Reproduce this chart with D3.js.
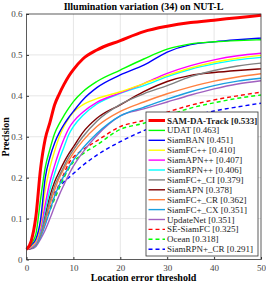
<!DOCTYPE html>
<html>
<head>
<meta charset="utf-8">
<script src="https://cdn.jsdelivr.net/npm/d3@7"></script>
<style>
  body { margin: 0; background: #fff; }
  text { font-family: "Liberation Serif", "Times New Roman", serif; }
</style>
</head>
<body>
<svg id="chart" width="266" height="284"></svg>
<script>
// thresholds on the x axis
const thresholds = [0, 1, 2, 3, 4, 5, 6, 7, 8, 9, 10, 12, 15, 20, 25, 30, 35, 40, 45, 50];

const trackers = ["SAM-DA-Track", "UDAT", "SiamBAN", "SiamFC++", "SiamAPN++", "SiamRPN++", "SiamFC+_CI",
  "SiamAPN", "SiamFC+_CR", "SiamFC+_CX", "UpdateNet", "SE-SiamFC", "Ocean", "SiamRPN+_CR"];
const scores = ["0.533", "0.463", "0.451", "0.410", "0.407", "0.406", "0.379",
  "0.378", "0.362", "0.351", "0.351", "0.325", "0.318", "0.291"];

const samdaTrack = [0.025, 0.045, 0.105, 0.222, 0.295, 0.335, 0.378, 0.405, 0.428, 0.448, 0.464, 0.49, 0.512, 0.535, 0.557, 0.57, 0.579, 0.585, 0.591, 0.597];
const udat = [0.025, 0.038, 0.062, 0.147, 0.225, 0.27, 0.308, 0.332, 0.352, 0.37, 0.386, 0.41, 0.435, 0.463, 0.49, 0.514, 0.527, 0.532, 0.535, 0.537];
const siamBan = [0.025, 0.035, 0.05, 0.097, 0.2, 0.25, 0.285, 0.31, 0.33, 0.347, 0.362, 0.39, 0.42, 0.451, 0.475, 0.507, 0.525, 0.532, 0.537, 0.541];
const siamFcpp = [0.025, 0.032, 0.045, 0.085, 0.17, 0.225, 0.265, 0.3, 0.325, 0.345, 0.36, 0.378, 0.393, 0.41, 0.43, 0.45, 0.468, 0.482, 0.492, 0.499];
const siamApnpp = [0.025, 0.03, 0.042, 0.075, 0.135, 0.19, 0.23, 0.265, 0.295, 0.32, 0.337, 0.36, 0.384, 0.407, 0.43, 0.455, 0.474, 0.488, 0.498, 0.504];
const siamRpnpp = [0.025, 0.03, 0.04, 0.07, 0.12, 0.17, 0.21, 0.245, 0.275, 0.305, 0.325, 0.352, 0.38, 0.406, 0.425, 0.447, 0.465, 0.478, 0.488, 0.494];
const siamFcCi = [0.025, 0.028, 0.036, 0.06, 0.1, 0.145, 0.18, 0.205, 0.228, 0.25, 0.268, 0.3, 0.338, 0.379, 0.405, 0.425, 0.447, 0.462, 0.473, 0.48];
const siamApn = [0.025, 0.028, 0.038, 0.065, 0.11, 0.155, 0.19, 0.215, 0.238, 0.258, 0.275, 0.31, 0.345, 0.378, 0.41, 0.435, 0.45, 0.457, 0.462, 0.466];
const siamFcCr = [0.025, 0.028, 0.036, 0.06, 0.095, 0.135, 0.17, 0.2, 0.222, 0.242, 0.26, 0.29, 0.325, 0.362, 0.385, 0.405, 0.422, 0.436, 0.446, 0.454];
const siamFcCx = [0.025, 0.027, 0.034, 0.055, 0.085, 0.12, 0.155, 0.182, 0.205, 0.225, 0.243, 0.272, 0.308, 0.351, 0.372, 0.392, 0.41, 0.425, 0.436, 0.443];
const updateNet = [0.025, 0.026, 0.032, 0.05, 0.072, 0.1, 0.13, 0.158, 0.183, 0.207, 0.228, 0.262, 0.303, 0.351, 0.368, 0.385, 0.402, 0.417, 0.429, 0.437];
const seSiamFc = [0.025, 0.028, 0.038, 0.06, 0.09, 0.125, 0.155, 0.185, 0.21, 0.235, 0.25, 0.268, 0.29, 0.325, 0.34, 0.36, 0.377, 0.39, 0.4, 0.409];
const ocean = [0.025, 0.028, 0.038, 0.06, 0.09, 0.12, 0.148, 0.175, 0.2, 0.222, 0.238, 0.258, 0.28, 0.318, 0.333, 0.352, 0.37, 0.383, 0.394, 0.402];
const siamRpnCr = [0.025, 0.03, 0.042, 0.07, 0.11, 0.145, 0.165, 0.178, 0.19, 0.2, 0.21, 0.23, 0.255, 0.288, 0.315, 0.335, 0.35, 0.363, 0.373, 0.382];

const xTicks = [0, 10, 20, 30, 40, 50];
const yTicks = [0, 0.1, 0.2, 0.3, 0.4, 0.5, 0.6];

const allSeries = [samdaTrack, udat, siamBan, siamFcpp, siamApnpp, siamRpnpp, siamFcCi,
  siamApn, siamFcCr, siamFcCx, updateNet, seSiamFc, ocean, siamRpnCr];
const colors = ["#ff0000", "#00ff00", "#0000ff", "#ffff00", "#ff00ff", "#00ffff", "#808080",
  "#800000", "#ff8040", "#1a9fe0", "#a060c0", "#ff0000", "#00ff00", "#0000ff"];

var svg = d3.select("#chart"),
  pLeft = 26.5, pRight = 261, pTop = 14, pBottom = 259.5;

var x = d3.scaleLinear().domain([0, 50]).range([pLeft, pRight]);
var y = d3.scaleLinear().domain([0, 0.6]).range([pBottom, pTop]);

// grid
svg.append("g").selectAll("line").data(xTicks.slice(1, -1)).enter().append("line")
  .attr("x1", d => x(d)).attr("x2", d => x(d)).attr("y1", pTop).attr("y2", pBottom)
  .attr("stroke", "#e6e6e6").attr("stroke-width", 1);
svg.append("g").selectAll("line").data(yTicks.slice(1, -1)).enter().append("line")
  .attr("y1", d => y(d)).attr("y2", d => y(d)).attr("x1", pLeft).attr("x2", pRight)
  .attr("stroke", "#e6e6e6").attr("stroke-width", 1);

// curves
var line = d3.line().x((d, i) => x(thresholds[i])).y(d => y(d)).curve(d3.curveMonotoneX);
var plot = svg.append("g");
allSeries.slice().reverse().forEach(function (vals, k) {
  var i = allSeries.length - 1 - k;
  plot.append("path")
    .attr("d", line(vals))
    .attr("fill", "none")
    .attr("stroke", colors[i])
    .attr("stroke-width", i === 0 ? 3 : 1.4)
    .attr("stroke-dasharray", i >= 11 ? "4,3" : null);
});

// box + axes
svg.append("rect").attr("x", pLeft).attr("y", pTop).attr("width", pRight - pLeft).attr("height", pBottom - pTop)
  .attr("fill", "none").attr("stroke", "#333").attr("stroke-width", 0.8);

var xAxis = svg.append("g").attr("transform", "translate(0," + pBottom + ")")
  .call(d3.axisBottom(x).tickValues(xTicks).tickSize(-2.5).tickPadding(5).tickFormat(d3.format("d")));
var yAxis = svg.append("g").attr("transform", "translate(" + pLeft + ",0)")
  .call(d3.axisLeft(y).tickValues(yTicks).tickSize(-2.5).tickPadding(4).tickFormat(d => d === 0 ? "0" : d3.format(".1f")(d)));
[xAxis, yAxis].forEach(function (a) {
  a.select(".domain").remove();
  a.selectAll("line").attr("stroke", "#333");
  a.selectAll("text").attr("fill", "#444").style("font-size", "9px")
    .style("font-family", "'Liberation Serif', serif");
});

// titles
svg.append("text").attr("x", 143.5).attr("y", 10).attr("text-anchor", "middle")
  .style("font-size", "10px").style("font-weight", "bold").text("Illumination variation (34) on NUT-L");
svg.append("text").attr("x", 143.5).attr("y", 281).attr("text-anchor", "middle")
  .style("font-size", "10px").style("font-weight", "bold").text("Location error threshold");
svg.append("text").attr("transform", "translate(9," + ((pTop + pBottom) / 2) + ") rotate(-90)")
  .attr("text-anchor", "middle").style("font-size", "10px").style("font-weight", "bold").text("Precision");

// legend
var lg = svg.append("g");
lg.append("rect").attr("x", 146).attr("y", 112).attr("width", 112).attr("height", 144)
  .attr("fill", "#fff").attr("stroke", "#333").attr("stroke-width", 0.8);
trackers.forEach(function (name, i) {
  var ly = 120.5 + i * 9.9;
  lg.append("line").attr("x1", 148.5).attr("x2", 165).attr("y1", ly).attr("y2", ly)
    .attr("stroke", colors[i]).attr("stroke-width", i === 0 ? 3 : 1.4)
    .attr("stroke-dasharray", i >= 11 ? "4,3" : null);
  lg.append("text").attr("x", 167).attr("y", ly + 3)
    .style("font-size", "9px").style("font-weight", i === 0 ? "bold" : "normal")
    .attr("fill", "#222")
    .text(name + " [" + scores[i] + "]");
});
</script>
</body>
</html>
